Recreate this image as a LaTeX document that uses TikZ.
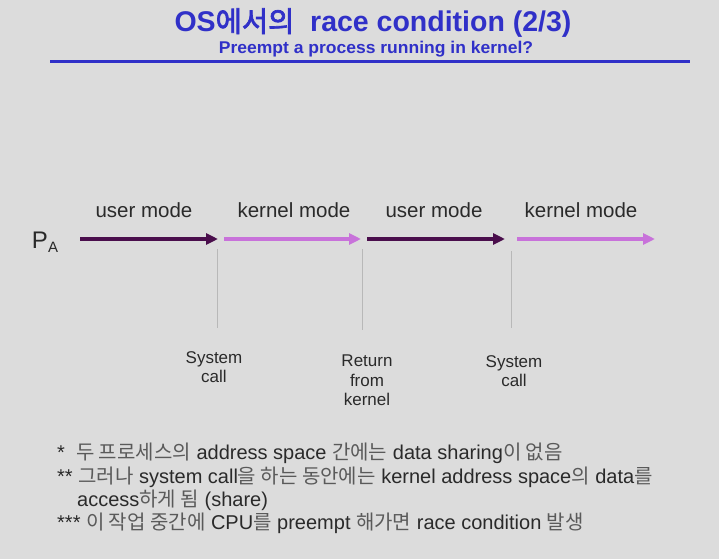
\documentclass[tikz,border=0pt]{standalone}
\usepackage{fontspec}
\setmainfont{Liberation Sans}
\newfontfamily\kr{Noto Sans CJK KR}
\newfontfamily\titlefont{Liberation Sans Bold}
\newfontfamily\subfont[FakeStretch=1.03]{Liberation Sans Bold}
\newfontfamily\titlekr[FakeBold=2.5]{Noto Sans CJK KR}
\usetikzlibrary{arrows.meta}
\definecolor{bg}{HTML}{DCDCDC}
\definecolor{ttl}{HTML}{3030C8}
\definecolor{darkp}{HTML}{4A0E4C}
\definecolor{lightp}{HTML}{C872DA}
\definecolor{txt}{HTML}{2A2A2A}
\definecolor{krtxt}{HTML}{5A5A5A}
\definecolor{tick}{HTML}{B8B8B8}
\tikzset{
  modelabel/.style={font=\fontsize{20.5}{22}\selectfont, text=txt, inner sep=0pt},
  evlabel/.style={font=\fontsize{17}{19.5}\selectfont, text=txt, align=center, inner sep=0pt},
  note/.style={font=\fontsize{20}{22}\selectfont, text=txt, anchor=west, inner sep=0pt},
  usr/.style={draw=darkp, line width=3.2pt, -{Triangle[length=12pt,width=11pt]}},
  krn/.style={draw=lightp, line width=3.2pt, -{Triangle[length=12pt,width=11pt]}},
  tickline/.style={draw=tick, line width=0.8pt}
}
\newcommand{\K}[1]{{\kr\color{krtxt}#1}}
\begin{document}
\begin{tikzpicture}[x=1pt,y=-1pt]
\fill[bg] (0,0) rectangle (719,559);
\useasboundingbox (0,0) rectangle (719,559);
% title
\node[text=ttl, inner sep=0pt] (title) at (373,23) {\fontsize{28.5}{30}\selectfont\titlefont OS{\titlekr 에서의}\ \ race condition (2/3)};
\node[text=ttl, inner sep=0pt] (subtitle) at (376,49) {\subfont\fontsize{17}{18}\selectfont Preempt a process running in kernel?};
\coordinate (hl) at (50,62);
\coordinate (hr) at (690,62);
\draw[ttl, line width=3pt] (hl) -- (hr);
% process label
\node[inner sep=0pt, text=txt] (pa) at (45,242) {\fontsize{24}{26}\selectfont P\raisebox{-0.35ex}{\fontsize{15}{16}\selectfont A}};
% arrows
\coordinate (a1s) at (80,239); \coordinate (a1e) at (218,239);
\coordinate (a2s) at (224,239); \coordinate (a2e) at (361,239);
\coordinate (a3s) at (367,239); \coordinate (a3e) at (505,239);
\coordinate (a4s) at (517,239); \coordinate (a4e) at (655,239);
\draw[usr] (a1s) -- (a1e);
\draw[krn] (a2s) -- (a2e);
\draw[usr] (a3s) -- (a3e);
\draw[krn] (a4s) -- (a4e);
\node[modelabel] (m1) at (144,210) {user mode};
\node[modelabel] (m2) at (294,210) {kernel mode};
\node[modelabel] (m3) at (434,210) {user mode};
\node[modelabel] (m4) at (581,210) {kernel mode};
% tick lines
\coordinate (t1a) at (217,249); \coordinate (t1b) at (217,328);
\coordinate (t2a) at (362,249); \coordinate (t2b) at (362,330);
\coordinate (t3a) at (511,251); \coordinate (t3b) at (511,328);
\draw[tickline] (t1a) -- (t1b);
\draw[tickline] (t2a) -- (t2b);
\draw[tickline] (t3a) -- (t3b);
% event labels
\node[evlabel, anchor=north] (e1) at (214,351) {System\\call};
\node[evlabel, anchor=north] (e2) at (367,355) {Return\\from\\kernel};
\node[evlabel, anchor=north] (e3) at (514,355) {System\\call};
% notes
\node[note] (n1) at (57,453) {*\ \ \K{두 프로세스의} address space \K{간에는} data sharing\K{이 없음}};
\node[note] (n2) at (57,477) {**\ \K{그러나} system call\K{을 하는 동안에는} kernel address space\K{의} data\K{를}};
\node[note] (n3) at (77,500) {access\K{하게 됨} (share)};
\node[note] (n4) at (57,523) {***\ \K{이 작업 중간에} CPU\K{를} preempt \K{해가면} race condition \K{발생}};
\end{tikzpicture}
\end{document}
